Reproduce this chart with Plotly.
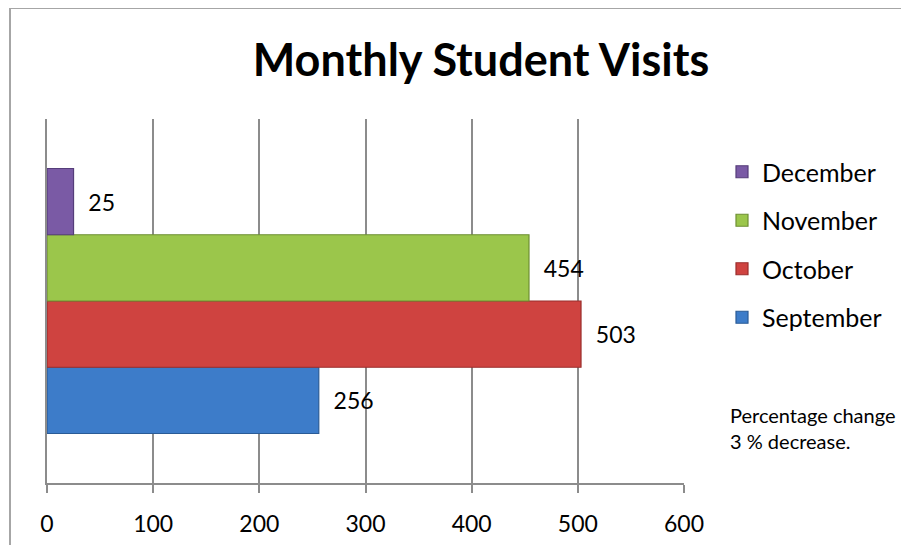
import plotly.graph_objects as go

months = ["September", "October", "November", "December"]
visits = [256, 503, 454, 25]
colors = ["#3D7CC9", "#CF4340", "#9BC64B", "#7A5AA5"]
edge_colors = ["#2A5B96", "#9A2E2C", "#6E8F33", "#553D7A"]
legend_ranks = [4, 3, 2, 1]
x_ticks = [0, 100, 200, 300, 400, 500, 600]
category = ["Visits"]
note_lines = ["Percentage change", "3 % decrease."]

FONT = "Lato, Calibri, Carlito, sans-serif"
GRID = "#8C8C8C"
FRAME = "#A6A6A6"
OFF = 8  # page body margin offset
W, H = 909 - OFF, 545 - OFF

fig = go.Figure()
for m, v, c, ec, rk in zip(months, visits, colors, edge_colors, legend_ranks):
    fig.add_trace(go.Bar(
        x=[v], y=category, orientation="h", name=m,
        legendgroup=m, legendrank=rk,
        marker=dict(color=c, line=dict(color=ec, width=1.2)),
        text=["\u00a0\u00a0" + str(v)], textposition="outside",
        textfont=dict(family=FONT, size=23, color="#000000"),
        cliponaxis=False,
    ))

fig.update_layout(
    width=W, height=H,
    margin=dict(l=47 - OFF, r=225, t=119 - OFF, b=62, autoexpand=False),
    paper_bgcolor="white", plot_bgcolor="white",
    barmode="group", bargap=0.272, bargroupgap=0,
    font=dict(family=FONT, color="#000000"),
    title=dict(text="<b>Monthly Student Visits</b>",
               font=dict(family=FONT, size=45, color="#000000"),
               x=(481 - OFF) / W, xref="container", xanchor="center",
               y=1 - (60 - OFF) / H, yref="container", yanchor="middle"),
    showlegend=True,
    legend=dict(traceorder="grouped", tracegroupgap=13,
                font=dict(family=FONT, size=25, color="#000000"),
                x=(722 - 47) / 637, xanchor="left", y=1 - (149 - 119) / 364, yanchor="top",
                itemwidth=30, bgcolor="rgba(0,0,0,0)"),
    xaxis=dict(range=[0, 600], tickvals=x_ticks, ticktext=[str(t) for t in x_ticks],
               showgrid=True, gridcolor=GRID, gridwidth=1.5,
               showline=True, linecolor=GRID, linewidth=1.5,
               ticks="outside", ticklen=8, tickcolor=GRID, tickwidth=1.5,
               ticklabelstandoff=12, automargin=False,
               tickfont=dict(family=FONT, size=23, color="#000000"),
               zeroline=False, fixedrange=True),
    yaxis=dict(showticklabels=False, showgrid=False, ticks="", automargin=False,
               showline=True, linecolor=GRID, linewidth=1.5,
               zeroline=False, fixedrange=True),
)

# outer chart frame: only top and left edges are visible in the crop
fx0 = (10 - 47) / 637
fy1 = (483 - 8) / 364
fig.add_shape(type="line", xref="paper", yref="paper",
              x0=fx0, x1=2.0, y0=fy1, y1=fy1,
              line=dict(color=FRAME, width=2), layer="below")
fig.add_shape(type="line", xref="paper", yref="paper",
              x0=fx0, x1=fx0, y0=-1.0, y1=fy1,
              line=dict(color=FRAME, width=2), layer="below")

fig.add_annotation(text="<br>".join(note_lines), xref="paper", yref="paper",
                   x=(728 - 47) / 637, y=(483 - 401) / 364, xanchor="left", yanchor="top",
                   align="left", showarrow=False,
                   font=dict(family=FONT, size=20, color="#000000"))

fig.write_html("out.html")
